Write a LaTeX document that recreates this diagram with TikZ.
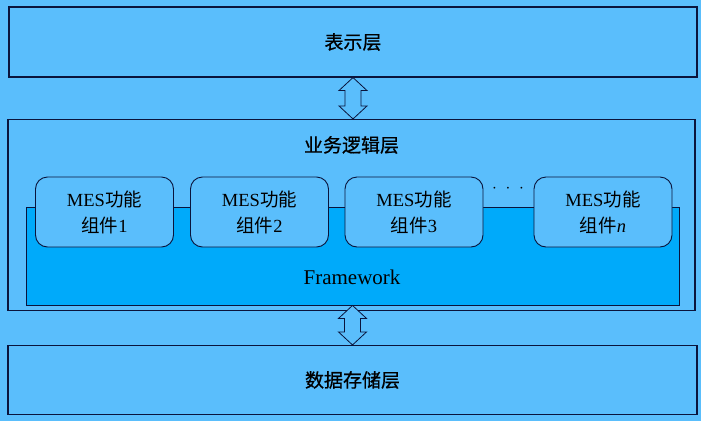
\documentclass[tikz,border=0pt]{standalone}
\usepackage{fontspec}
\setmainfont{Liberation Serif}
\newfontfamily\cjk{Noto Sans CJK SC}
\newfontfamily\cjktitle[FakeBold=0.7]{Noto Sans CJK SC}
\usetikzlibrary{calc}

\definecolor{bgblue}{RGB}{90,190,252}
\definecolor{fwblue}{RGB}{0,170,250}
\definecolor{edge}{RGB}{10,20,60}

\tikzset{
    layer/.style={draw=edge, line width=1.1pt, fill=bgblue, inner sep=0pt},
    title/.style={font=\fontsize{19}{22}\selectfont\cjktitle},
    comp/.style={draw=edge, line width=0.9pt, fill=bgblue, rounded corners=12pt,
        minimum width=138pt, minimum height=70pt, align=center, inner sep=0pt,
        font=\fontsize{18.5}{26}\selectfont},
    blockarrow/.style={draw=edge, line width=0.8pt, fill=bgblue, line join=miter}
}

\newcommand{\layerarrow}[2]{%
    \draw[blockarrow] (#1) -- ($(#1)+(14,13)$) -- ($(#1)+(8,13)$)
        -- ($(#2)+(8,-13)$) -- ($(#2)+(14,-13)$) -- (#2)
        -- ($(#2)+(-14,-13)$) -- ($(#2)+(-8,-13)$)
        -- ($(#1)+(-8,13)$) -- ($(#1)+(-14,13)$) -- cycle;}

\begin{document}
\begin{tikzpicture}[x=1pt, y=-1pt]
        \fill[bgblue] (0,0) rectangle (701,421);
        \useasboundingbox (0,0) rectangle (701,421);

        \node[layer, title, minimum width=688pt, minimum height=70pt] (pres) at (353,42) {表示层};
        \node[layer, minimum width=687pt, minimum height=191pt] (logic) at (351.5,215) {};
        \node[title] (logictitle) at (351.5,145) {业务逻辑层};
        \node[layer, title, minimum width=689pt, minimum height=69pt] (data) at (352.5,380) {数据存储层};

        \node[layer, fill=fwblue, line width=0.9pt, minimum width=653pt, minimum height=98pt] (fw) at (352.5,256) {};
        \node[font=\fontsize{21}{24}\selectfont] (fwlabel) at (352,277) {Framework};

        \node[comp] (c1) at (104.5,212) {MES{\cjk 功能}\\{\cjk 组件}1};
        \node[comp] (c2) at (259.5,212) {MES{\cjk 功能}\\{\cjk 组件}2};
        \node[comp] (c3) at (414,212) {MES{\cjk 功能}\\{\cjk 组件}3};
        \node[font=\fontsize{19}{22}\selectfont] (dots) at (508,189) {$\cdot\;\cdot\;\cdot$};
        \node[comp] (cn) at (603,212) {MES{\cjk 功能}\\{\cjk 组件}\textit{n}};

        \layerarrow{pres.south}{pres.south |- logic.north}
        \layerarrow{fw.south}{fw.south |- data.north}
    \end{tikzpicture}
\end{document}
